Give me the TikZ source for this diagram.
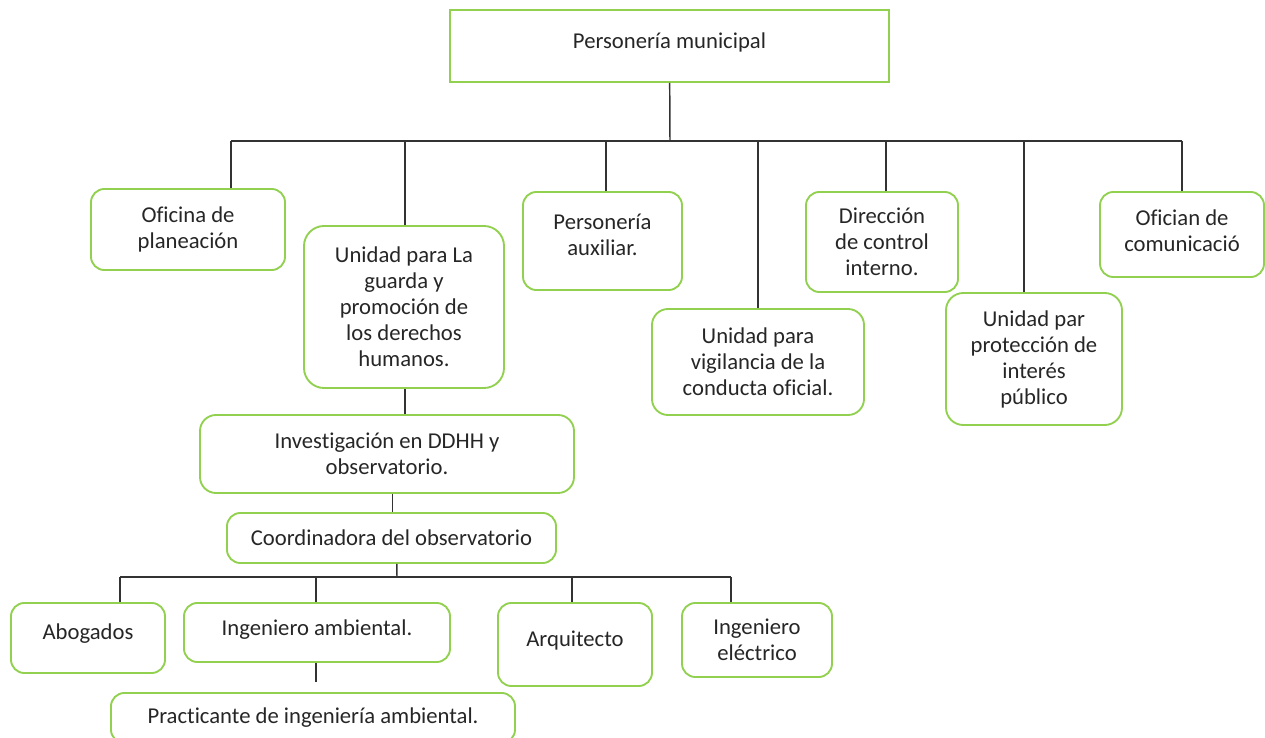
\documentclass[tikz,border=0pt]{standalone}
\usepackage{fontspec}
\setmainfont{Carlito}[Ligatures=NoCommon]
\definecolor{boxgreen}{RGB}{146,208,80}
\begin{document}
\begin{tikzpicture}[x=0.75pt,y=-0.75pt]
			\tikzstyle{unit}=[draw=boxgreen,line width=1.4pt,rounded corners=10pt,align=center,text=black!85,inner sep=0pt,font=\fontsize{17}{19.5}\selectfont]
			\tikzstyle{link}=[draw=black!80,line width=1.1pt]
			\useasboundingbox (0,0) rectangle (1265,738);
			\node[unit,sharp corners,text depth=7.9pt,minimum width=329.25pt,minimum height=54pt] (P_0) at (669.5,46) {Personería municipal};
			\node[unit,minimum width=145.5pt,minimum height=60.75pt] (P_1) at (188,229.5) {Oficina de\\planeación};
			\node[unit,rounded corners=15pt,minimum width=150pt,minimum height=121.5pt] (P_2) at (404,307) {Unidad para La\\guarda y\\promoción de\\los derechos\\humanos.};
			\node[unit,text depth=9.8pt,minimum width=119.25pt,minimum height=73.5pt] (P_3) at (602.5,241) {Personería\\auxiliar.};
			\node[unit,rounded corners=12pt,minimum width=159pt,minimum height=79.5pt] (P_4) at (758,362) {Unidad para\\vigilancia de la\\conducta oficial.};
			\node[unit,minimum width=114pt,minimum height=75pt] (P_5) at (882,242) {Dirección\\de control\\interno.};
			\node[unit,rounded corners=13pt,minimum width=132pt,minimum height=99pt] (P_6) at (1034,359) {Unidad par\\protección de\\interés\\público};
			\node[unit,text depth=6pt,minimum width=123pt,minimum height=63.75pt] (P_7) at (1182,234.5) {Ofician de\\comunicació};
			\node[unit,rounded corners=12pt,minimum width=280.5pt,minimum height=58.5pt] (O_1) at (387,454) {Investigación en DDHH y\\observatorio.};
			\node[unit,minimum width=246.75pt,minimum height=37.5pt] (O_2) at (391.5,538) {Coordinadora del observatorio};
			\node[unit,text depth=9.4pt,minimum width=115.5pt,minimum height=52.5pt] (E_1) at (88,638) {Abogados};
			\node[unit,text depth=7.9pt,minimum width=199.5pt,minimum height=44.25pt] (E_2) at (317,632.5) {Ingeniero ambiental.};
			\node[unit,text depth=9.4pt,minimum width=115.5pt,minimum height=62.25pt] (E_3) at (575,644.5) {Arquitecto};
			\node[unit,minimum width=112.5pt,minimum height=55.5pt] (E_4) at (757,640) {Ingeniero\\eléctrico};
			\node[unit,minimum width=303pt,minimum height=37.5pt] (E_5) at (313,718) {Practicante de ingeniería ambiental.};
			\coordinate (B_1) at (670,141);
			\coordinate (B_2) at (397,577);
			\draw[link] (P_0) -- (B_1);
			\draw[link] ([xshift=32.25pt]P_1.north |- B_1) -- (P_7.north |- B_1);
			\foreach \n/\s in {P_1/32.25pt,P_2/0.75pt,P_3/2.6pt,P_4/0pt,P_5/3pt,P_6/-7.5pt,P_7/0pt}
				\draw[link] ([xshift=\s]\n.north) -- ([xshift=\s]\n.north |- B_1);
			\draw[link] ([xshift=0.75pt]P_2.south) -- ([xshift=0.75pt]P_2.south |- O_1.north);
			\draw[link] ([xshift=4pt]O_1.south) -- ([xshift=4pt]O_1.south |- O_2.north);
			\draw[link] ([xshift=4pt]O_2.south) -- (B_2);
			\draw[link] ([xshift=24pt]E_1.north |- B_2) -- ([xshift=-19.5pt]E_4.north |- B_2);
			\foreach \n/\s in {E_1/24pt,E_2/-0.75pt,E_3/-2.25pt,E_4/-19.5pt}
				\draw[link] ([xshift=\s]\n.north) -- ([xshift=\s]\n.north |- B_2);
			\draw[link,shorten >=7.5pt] ([xshift=-0.75pt]E_2.south) -- ([xshift=-0.75pt]E_2.south |- E_5.north);
\end{tikzpicture}
\end{document}
